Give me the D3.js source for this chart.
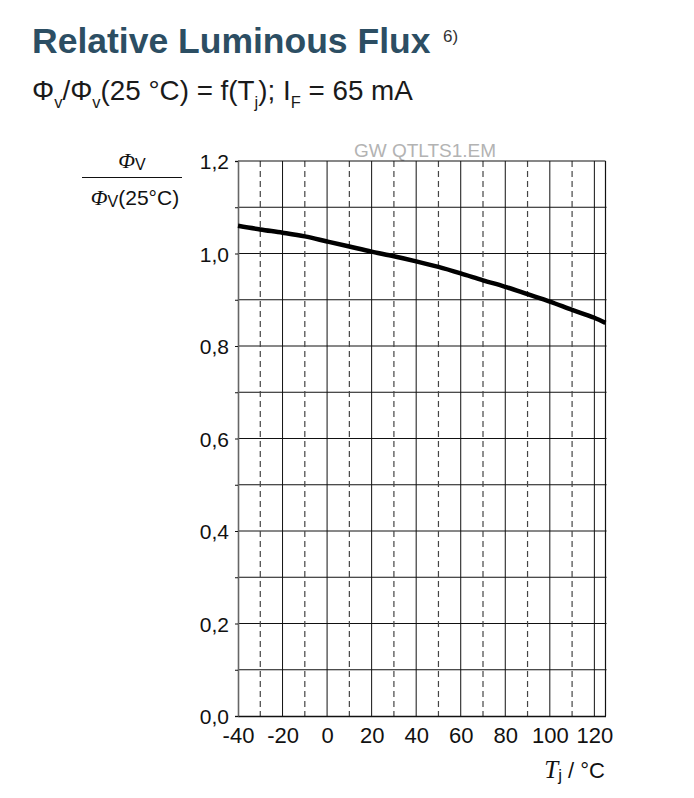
<!DOCTYPE html>
<html>
<head>
<meta charset="utf-8">
<script src="https://cdn.jsdelivr.net/npm/d3@7"></script>
<style>
  html, body { margin: 0; padding: 0; background: #fff; }
  svg { display: block; font-family: "Liberation Sans", Arial, Helvetica, sans-serif; }
</style>
</head>
<body>
<svg id="chart" width="694" height="798"></svg>
<script>
// ---- data ----
const temps = [-40, -30, -20, -10, 0, 10, 20, 30, 40, 50, 60, 70, 80, 90, 100, 110, 120, 125];
const relFlux = [1.060, 1.052, 1.045, 1.037, 1.026, 1.015, 1.004, 0.994, 0.983, 0.971, 0.957, 0.942, 0.928, 0.912, 0.896, 0.878, 0.861, 0.850];
const xTickValues = [-40, -20, 0, 20, 40, 60, 80, 100, 120];
const xDashedValues = [-30, -10, 10, 30, 50, 70, 90, 110];
const yTickValues = [0, 0.2, 0.4, 0.6, 0.8, 1.0, 1.2];
const yGridValues = [0.1, 0.2, 0.3, 0.4, 0.5, 0.6, 0.7, 0.8, 0.9, 1.0, 1.1];
const xDomain = [-40, 125];
const yDomain = [0, 1.2];

// ---- layout ----
const pLeft = 238, pRight = 605.5, pTop = 161, pBottom = 716;
const svg = d3.select("#chart");
const x = d3.scaleLinear().domain(xDomain).range([pLeft, pRight]);
const y = d3.scaleLinear().domain(yDomain).range([pBottom, pTop]);
const fmt = v => d3.format(".1f")(v).replace(".", ",");

// title
svg.append("text").attr("x", 32).attr("y", 53)
  .attr("font-size", 35.5).attr("font-weight", "bold").attr("fill", "#2c4e63")
  .text("Relative Luminous Flux");
svg.append("text").attr("x", 443).attr("y", 42).attr("font-size", 17).attr("fill", "#333")
  .text("6)");

// subtitle
const sub = svg.append("text").attr("x", 32).attr("y", 100).attr("font-size", 27.8).attr("fill", "#1a1a1a");
const subParts = [
  ["Φ", false], ["v", true], ["/Φ", false], ["v", true], ["(25 °C) = f(T", false], ["j", true],
  ["); I", false], ["F", true], [" = 65 mA", false]
];
subParts.forEach(([t, isSub], i) => {
  const ts = sub.append("tspan").text(t);
  const prevSub = i > 0 && subParts[i - 1][1];
  if (isSub) ts.attr("font-size", 16.5).attr("dy", 8);
  else if (prevSub) ts.attr("dy", -8);
});

// watermark
svg.append("text").attr("x", 425).attr("y", 156.5).attr("text-anchor", "middle")
  .attr("font-size", 19).attr("fill", "#b3b3b3").text("GW QTLTS1.EM");

// grid: horizontal solid lines
const g = svg.append("g");
g.selectAll("line.h").data(yGridValues).join("line").attr("class", "h")
  .attr("x1", pLeft).attr("x2", pRight + 1).attr("y1", d => y(d)).attr("y2", d => y(d))
  .attr("stroke", "#111").attr("stroke-width", 1);
// vertical dashed
g.selectAll("line.vd").data(xDashedValues).join("line").attr("class", "vd")
  .attr("x1", d => x(d)).attr("x2", d => x(d)).attr("y1", pTop).attr("y2", pBottom)
  .attr("stroke", "#444").attr("stroke-width", 1.2).attr("stroke-dasharray", "6,4");
// vertical solid
g.selectAll("line.vs").data(xTickValues.filter(v => v > xDomain[0])).join("line").attr("class", "vs")
  .attr("x1", d => x(d)).attr("x2", d => x(d)).attr("y1", pTop).attr("y2", pBottom)
  .attr("stroke", "#111").attr("stroke-width", 1);

// frame
g.append("line").attr("x1", pLeft).attr("x2", pRight).attr("y1", pTop).attr("y2", pTop).attr("stroke", "#111").attr("stroke-width", 1.2);
g.append("line").attr("x1", pRight).attr("x2", pRight).attr("y1", pTop).attr("y2", pBottom).attr("stroke", "#111").attr("stroke-width", 1.2);

// y axis
const yAxis = d3.axisLeft(y).tickValues(d3.range(0, 13).map(i => i / 10)).tickSize(3).tickPadding(6)
  .tickFormat(v => yTickValues.some(t => Math.abs(t - v) < 1e-9) ? fmt(v) : "");
const ya = svg.append("g").attr("transform", `translate(${pLeft},0)`).call(yAxis);
ya.select(".domain").attr("stroke", "#666").attr("stroke-width", 1.6);
ya.selectAll(".tick line").attr("stroke", "#111");
ya.selectAll("text").attr("font-size", 21).attr("fill", "#111")
  .attr("font-family", "'Liberation Sans', Arial, sans-serif").attr("dy", "0.36em");

// x axis
const xAxis = d3.axisBottom(x).tickValues(xTickValues).tickSize(0).tickPadding(12).tickFormat(v => String(v));
const xa = svg.append("g").attr("transform", `translate(0,${pBottom})`).call(xAxis);
xa.select(".domain").attr("stroke", "#111").attr("stroke-width", 1.4);
xa.selectAll("text").attr("font-size", 22).attr("fill", "#111")
  .attr("font-family", "'Liberation Sans', Arial, sans-serif").attr("dy", "0.7em");

// curve
const line = d3.line().x((d, i) => x(temps[i])).y(d => y(d)).curve(d3.curveMonotoneX);
svg.append("path").datum(relFlux).attr("d", line).attr("fill", "none")
  .attr("stroke", "#000").attr("stroke-width", 4.5).attr("stroke-linejoin", "round");

// y-axis label (fraction)
const ylab = svg.append("g");
ylab.append("line").attr("x1", 82).attr("x2", 182).attr("y1", 177.5).attr("y2", 177.5)
  .attr("stroke", "#111").attr("stroke-width", 1.2);
const num = ylab.append("text").attr("x", 132).attr("y", 168).attr("text-anchor", "middle").attr("fill", "#111");
num.append("tspan").attr("font-family", "'Liberation Serif', 'Times New Roman', serif")
  .attr("font-style", "italic").attr("font-size", 22).text("Φ");
num.append("tspan").attr("font-size", 16).attr("dy", 2).text("V");
const den = ylab.append("text").attr("x", 135).attr("y", 205).attr("text-anchor", "middle").attr("fill", "#111");
den.append("tspan").attr("font-family", "'Liberation Serif', 'Times New Roman', serif")
  .attr("font-style", "italic").attr("font-size", 22).text("Φ");
den.append("tspan").attr("font-size", 16).attr("dy", 2).text("V");
den.append("tspan").attr("font-size", 21).attr("dy", -2).text("(25°C)");

// x-axis label
const xlab = svg.append("text").attr("x", 605).attr("y", 778).attr("text-anchor", "end").attr("fill", "#111");
xlab.append("tspan").attr("font-family", "'Liberation Serif', 'Times New Roman', serif")
  .attr("font-style", "italic").attr("font-size", 25).text("T");
xlab.append("tspan").attr("font-size", 17).attr("dy", 3).text("j");
xlab.append("tspan").attr("font-size", 22).attr("dy", -3).text(" / °C");
</script>
</body>
</html>
